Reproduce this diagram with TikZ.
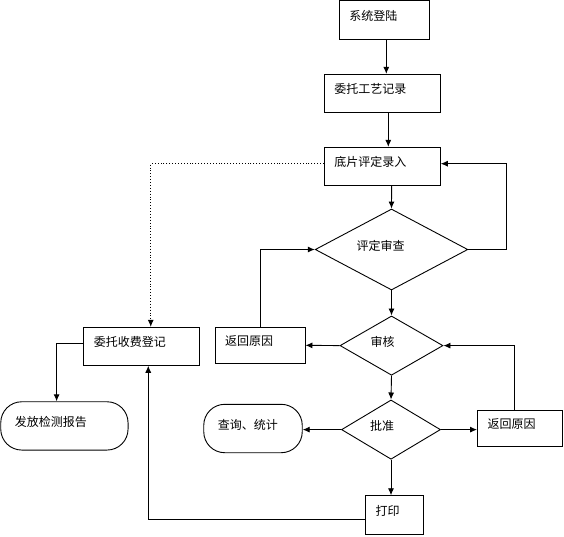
\documentclass[tikz,border=0pt]{standalone}
\usepackage{fontspec}
\newfontfamily\cjk{Noto Sans CJK SC}
\usetikzlibrary{shapes.geometric, arrows.meta}

\begin{document}
\begin{tikzpicture}[x=1pt, y=-1pt, line width=0.9pt, >={Latex[length=7pt,width=6pt]},
        box/.style={draw, align=left, inner xsep=10pt, text height=6pt, text depth=5pt, font={\cjk\fontsize{12}{14}\selectfont}},
        roundbox/.style={box, inner xsep=14pt, rounded corners=21pt},
        check/.style={draw, diamond, inner sep=0pt, align=left, text height=6pt, text depth=5pt, font={\cjk\fontsize{12}{14}\selectfont}}]
        \useasboundingbox (0,0) rectangle (564,536);

        % Main column
        \node[box, text width=70pt, minimum height=39pt] (login) at (384.3,20.4) {系统登陆};
        \node[box, text width=96pt, minimum height=38pt] (craft) at (382.3,93.3) {委托工艺记录};
        \node[box, text width=96pt, minimum height=38pt] (film) at (382.3,166.3) {底片评定录入};
        \node[check, text width=70pt, minimum width=152.6pt, minimum height=59.3pt] (review) at (391.5,249.5) {评定审查};
        \node[check, text width=42pt, minimum width=103pt, minimum height=59.3pt] (audit) at (391.5,345.6) {审核};
        \node[check, text width=42pt, minimum width=99pt, minimum height=59.3pt] (approve) at (391,429.6) {批准};
        \node[box, text width=37.7pt, minimum height=38.6pt] (print) at (394.5,515) {打印};

        % Side boxes
        \node[box, text width=70pt, minimum height=36pt] (back1) at (260,345.3) {返回原因};
        \node[box, text width=65pt, minimum height=35.7pt] (back2) at (520,428.2) {返回原因};
        \node[roundbox, text width=70.5pt, minimum height=48.4pt] (query) at (253,428.5) {查询、统计};
        \node[box, text width=96pt, minimum height=38pt] (fee) at (141.75,346.3) {委托收费登记};
        \node[roundbox, text width=99.3pt, minimum height=48.3pt] (report) at (64.4,425.9) {发放检测报告};

        % Arrows down the column
        \draw[->] ([xshift=2pt]login.south) -- ([xshift=4pt]craft.north);
        \draw[->] ([xshift=6pt]craft.south) -- ([xshift=6pt]film.north);
        \draw[->] ([xshift=9.3pt]film.south) -- (review.north);
        \draw[->] (review.south) -- (audit.north);
        \draw[->] (audit.south) -- (approve.north);
        \draw[->] (approve.south) -- (approve.south |- print.north);

        % Loops back
        \draw[->] (review.east) -- ++(37.9,0) |- ([yshift=2.6pt]film.east);
        \draw[->] (audit.west) -- (back1.east);
        \draw[->] (back1.north) |- (review.west);
        \draw[->] (approve.west) -- (approve.west -| query.east);
        \draw[->] (approve.east) -- (approve.east -| back2.west);
        \draw[->] ([xshift=-5.4pt]back2.north) |- (audit.east);

        % Fee and report
        \draw[->, dotted] ([yshift=2.6pt]film.west) -| ([xshift=9pt]fee.north);
        \draw[->] ([yshift=-4.3pt]print.west) -| ([xshift=6.5pt]fee.south);
        \draw[->] ([yshift=2.6pt]fee.west) -| ([xshift=-7.8pt]report.north);

    \end{tikzpicture}
\end{document}
